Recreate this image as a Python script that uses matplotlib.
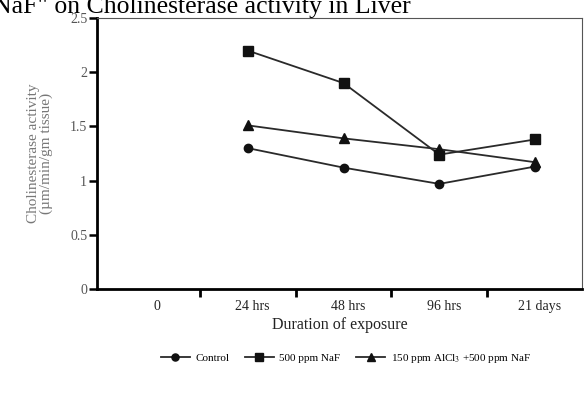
import numpy as np
import matplotlib
matplotlib.use("Agg")
from matplotlib import pyplot as plt

plt.rcParams['font.family'] = ['Liberation Serif', 'DejaVu Serif']
plt.rcParams['mathtext.fontset'] = 'stix'

categories = ["0", "24 hrs", "48 hrs", "96 hrs", "21 days"]
days = [1, 2, 3, 4]
control = [1.30, 1.12, 0.97, 1.13]
naf = [2.20, 1.90, 1.24, 1.38]
alcl_naf = [1.51, 1.39, 1.29, 1.17]

fig = plt.figure(figsize=(5.84, 3.93), dpi=100)
ax = fig.add_axes([0.166, 0.2646, 0.8306, 0.6894])

line_kw = dict(color="#2a2a2a", lw=1.3, markerfacecolor="#111111", markeredgecolor="#111111")
ax.plot(days, control, marker="o", ms=6, label="Control", **line_kw)
ax.plot(days, naf, marker="s", ms=7, label="500 ppm NaF", **line_kw)
ax.plot(days, alcl_naf, marker="^", ms=7, label="150 ppm AlCl$_3$ +500 ppm NaF", **line_kw)

ax.set_xlim(-0.575, 4.49)
ax.set_ylim(0, 2.5)
ax.set_yticks([0, 0.5, 1, 1.5, 2, 2.5])
ax.set_yticklabels(["0", "0.5", "1", "1.5", "2", "2.5"], color="#555555", fontsize=10)

# category labels sit under the groups, ticks mark the boundaries
ax.set_xticks(np.arange(len(categories)) + 0.05)
ax.set_xticklabels(categories, fontsize=10, color="#222222")
ax.tick_params(axis="x", length=0, pad=8)
ax.set_xticks([0.5, 1.5, 2.5, 3.5], minor=True)
ax.tick_params(axis="x", which="minor", length=6, width=2, direction="out")
ax.tick_params(axis="y", length=6, width=1.8, direction="out", pad=1)

for side in ["left", "bottom"]:
    ax.spines[side].set_linewidth(2)
    ax.spines[side].set_color("black")
for side in ["top", "right"]:
    ax.spines[side].set_linewidth(0.8)
    ax.spines[side].set_color("#555555")

ax.set_ylabel("Cholinesterase activity\n(\u00b5m/min/gm tissue)", fontsize=11,
              color="#777777", labelpad=12, linespacing=1.0)
ax.set_xlabel("Duration of exposure", fontsize=11.5, color="#222222", labelpad=3)

fig.text(411, 393 - 13.5, 'NaF" on Cholinesterase activity in Liver',
         transform=None, fontsize=18.5, va="baseline", ha="right")

leg = ax.legend(loc="center", bbox_to_anchor=(0.513, -0.255), ncol=3, frameon=False,
                fontsize=8, handlelength=2.6, columnspacing=1.4, handletextpad=0.5,
                markerscale=0.85)

fig.savefig("out.png", dpi=100)
